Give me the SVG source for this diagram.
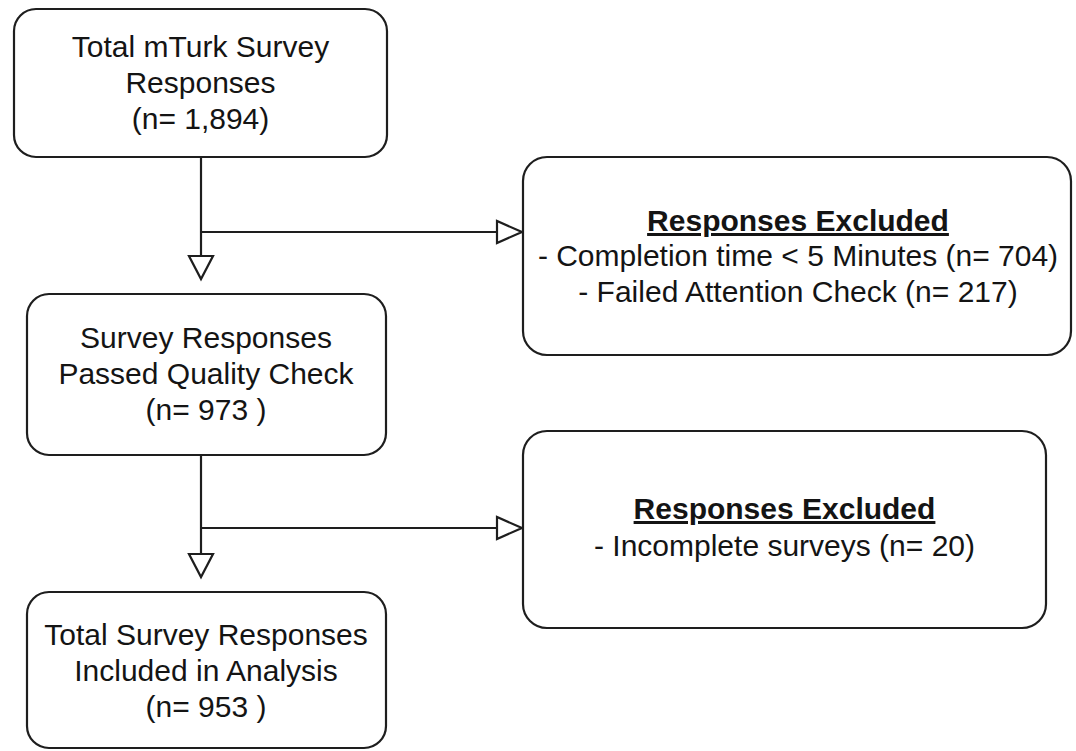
<svg xmlns="http://www.w3.org/2000/svg" width="1076" height="751" viewBox="0 0 1076 751">
<style>
.box{fill:#fff;stroke:#1e1e1e;stroke-width:2.2}
.t{font-family:"Liberation Sans",Arial,sans-serif;font-size:30px;fill:#141414;text-anchor:middle}
.b{font-weight:bold;text-decoration:underline}
.ln{fill:none;stroke:#1e1e1e;stroke-width:2.2}
.ah{fill:#fff;stroke:#1e1e1e;stroke-width:2.2;stroke-linejoin:miter}
</style>
<rect width="1076" height="751" fill="#fff"/>
<g id="connectors">
<path class="ln" d="M201 157V256"/>
<path class="ln" d="M201 232H497"/>
<polygon class="ah" points="189,256 213,256 201,279"/>
<polygon class="ah" points="497,221 497,243 522,232"/>
<path class="ln" d="M201 455V554"/>
<path class="ln" d="M201 528H497"/>
<polygon class="ah" points="189,554 213,554 201,577"/>
<polygon class="ah" points="497,517 497,539 522,528"/>
</g>
<g id="n1">
<rect class="box" x="14" y="9" width="373" height="148" rx="22"/>
<text class="t" x="200.5" y="57">Total mTurk Survey</text>
<text class="t" x="200.5" y="93">Responses</text>
<text class="t" x="200.5" y="129">(n= 1,894)</text>
</g>
<g id="n2">
<rect class="box" x="523" y="157" width="548" height="198" rx="24"/>
<text class="t b" x="798" y="231">Responses Excluded</text>
<text class="t" x="798" y="266">- Completion time &lt; 5 Minutes (n= 704)</text>
<text class="t" x="798" y="302">- Failed Attention Check (n= 217)</text>
</g>
<g id="n3">
<rect class="box" x="27" y="294" width="359" height="161" rx="22"/>
<text class="t" x="206" y="348">Survey Responses</text>
<text class="t" x="206" y="384">Passed Quality Check</text>
<text class="t" x="206" y="420">(n= 973 )</text>
</g>
<g id="n4">
<rect class="box" x="523" y="431" width="523" height="197" rx="24"/>
<text class="t b" x="784.5" y="519">Responses Excluded</text>
<text class="t" x="784.5" y="556">- Incomplete surveys (n= 20)</text>
</g>
<g id="n5">
<rect class="box" x="27" y="592" width="359" height="156" rx="22"/>
<text class="t" x="206" y="645">Total Survey Responses</text>
<text class="t" x="206" y="681">Included in Analysis</text>
<text class="t" x="206" y="717">(n= 953 )</text>
</g>
</svg>
